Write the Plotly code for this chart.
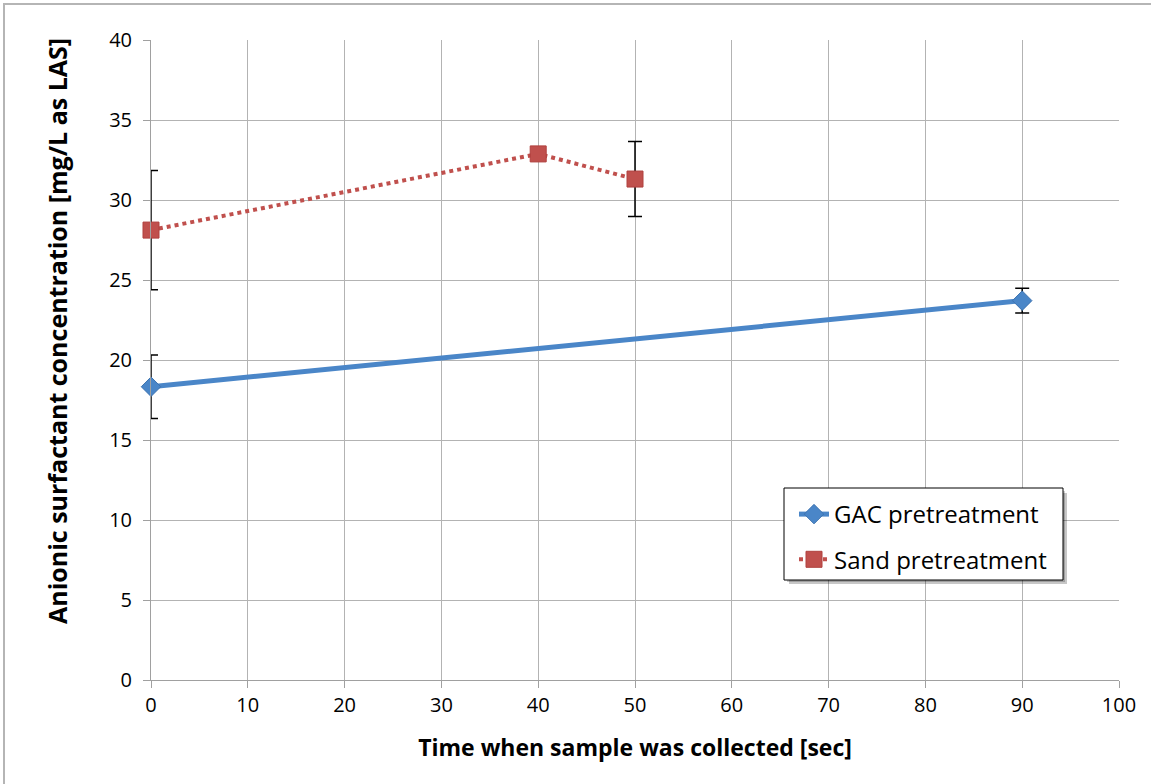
import plotly.graph_objects as go

# Data
gac_x = [0, 90]
gac_y = [18.33, 23.71]
gac_err = [1.98, 0.78]

sand_x = [0, 40, 50]
sand_y = [28.12, 32.88, 31.31]
sand_err = [3.73, 0.0, 2.34]

x_ticks = [0, 10, 20, 30, 40, 50, 60, 70, 80, 90, 100]
y_ticks = [0, 5, 10, 15, 20, 25, 30, 35, 40]

FONT = "'Open Sans', sans-serif"
BLUE = "#4a86c8"
RED = "#c0504d"

fig = go.Figure()

fig.add_trace(go.Scatter(
    x=gac_x, y=gac_y, name="GAC pretreatment", mode="lines+markers",
    legendgroup="gac", cliponaxis=False,
    line=dict(color=BLUE, width=5),
    marker=dict(symbol="diamond", size=15, color=BLUE, line=dict(color="#3d73b0", width=1)),
    error_y=dict(type="data", array=gac_err, visible=True, color="black", thickness=1.5, width=7),
))
fig.add_trace(go.Scatter(
    x=sand_x, y=sand_y, name="Sand pretreatment", mode="lines+markers",
    legendgroup="sand", cliponaxis=False,
    line=dict(color=RED, width=4, dash="dot"),
    marker=dict(symbol="square", size=16, color=RED, line=dict(color="#b0413e", width=1)),
    error_y=dict(type="data", array=sand_err, visible=True, color="black", thickness=1.5, width=7),
))

W, H = 1151, 784
L, R, T, B = 151, 32, 40, 104
pw, ph = W - L - R, H - T - B

def px_x(p):
    return (p - L) / pw

def px_y(p):
    return (H - B - p) / ph

shapes = [
    # outer frame (top-left visible)
    dict(type="rect", xref="paper", yref="paper",
         x0=px_x(4), x1=px_x(1200), y0=px_y(830), y1=px_y(4),
         line=dict(color="#b5b5b5", width=2), fillcolor="rgba(0,0,0,0)", layer="below"),
    # legend shadow
    dict(type="rect", xref="paper", yref="paper",
         x0=px_x(789), x1=px_x(1067), y0=px_y(584), y1=px_y(493),
         line=dict(width=0), fillcolor="rgba(0,0,0,0.22)", layer="above"),
    dict(type="rect", xref="paper", yref="paper",
         x0=px_x(787), x1=px_x(1065), y0=px_y(582), y1=px_y(491),
         line=dict(width=0), fillcolor="rgba(0,0,0,0.2)", layer="above"),
    dict(type="rect", xref="paper", yref="paper",
         x0=px_x(784), x1=px_x(1063), y0=px_y(580), y1=px_y(488),
         line=dict(color="black", width=1), fillcolor="white", layer="above"),
]

annotations = [
    dict(text="<b>Anionic surfactant concentration [mg/L as LAS]</b>",
         xref="paper", yref="paper", x=px_x(57), y=px_y(331),
         xanchor="center", yanchor="middle", textangle=-90, showarrow=False,
         font=dict(family=FONT, size=25, color="black")),
]

fig.update_layout(
    width=W, height=H,
    margin=dict(l=L, r=R, t=T, b=B),
    paper_bgcolor="white", plot_bgcolor="white",
    font=dict(family=FONT, size=20, color="black"),
    showlegend=True,
    legend=dict(
        x=px_x(794), y=px_y(492), xanchor="left", yanchor="top",
        bgcolor="rgba(0,0,0,0)", borderwidth=0,
        font=dict(family=FONT, size=24, color="black"),
        tracegroupgap=11,
    ),
    shapes=shapes,
    annotations=annotations,
    xaxis=dict(
        range=[0, 100], tickvals=x_ticks, showgrid=True, gridcolor="#b3b3b3", gridwidth=1,
        showline=True, linecolor="#a0a0a0", linewidth=1, zeroline=False,
        ticks="outside", ticklen=7, tickcolor="#a0a0a0",
        tickfont=dict(size=20),
        title=dict(text="<b>Time when sample was collected [sec]</b>", font=dict(size=23), standoff=22),
        mirror=False,
    ),
    yaxis=dict(
        range=[0, 40], tickvals=y_ticks, showgrid=True, gridcolor="#b3b3b3", gridwidth=1,
        showline=True, linecolor="#a0a0a0", linewidth=1, zeroline=False,
        ticks="outside", ticklen=7, tickcolor="#a0a0a0",
        tickfont=dict(size=20), ticklabelstandoff=7,
    ),
)

fig.write_html("out.html")
